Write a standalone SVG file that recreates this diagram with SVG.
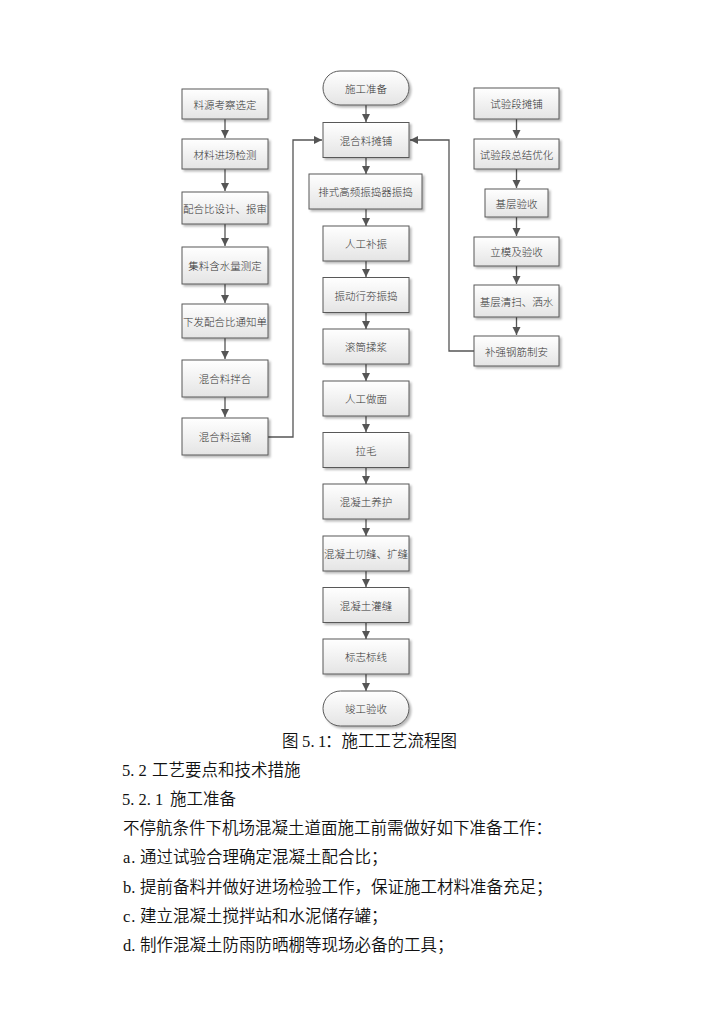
<svg xmlns="http://www.w3.org/2000/svg" width="724" height="1024" viewBox="0 0 724 1024">
<style>
.box{fill:url(#g);stroke:#595959;stroke-width:1;filter:url(#sh)}
.lbl{font-family:"Noto Sans CJK SC","Noto Sans",sans-serif;font-size:10.5px;font-weight:300;fill:#333;text-anchor:middle;dominant-baseline:central}
.ln{fill:none;stroke:#555;stroke-width:1.3}
.arr{marker-end:url(#ah)}
.body{font-family:"Liberation Serif","Noto Sans CJK SC",serif;font-size:16.5px;fill:#111}
.cjk{font-family:"Noto Sans CJK SC","Liberation Serif",sans-serif;font-weight:350}
</style>
<defs>
<linearGradient id="g" x1="0" y1="0" x2="0" y2="1">
<stop offset="0" stop-color="#ffffff"/>
<stop offset="1" stop-color="#e4e4e4"/>
</linearGradient>
<filter id="sh" x="-10%" y="-10%" width="130%" height="140%">
<feDropShadow dx="2" dy="2" stdDeviation="1.2" flood-color="#000" flood-opacity="0.28"/>
</filter>
<marker id="ah" markerUnits="userSpaceOnUse" markerWidth="9" markerHeight="9" refX="8" refY="4" orient="auto">
<path d="M0,0 L8,4 L0,8 z" fill="#555"/>
</marker>
</defs>
<rect width="724" height="1024" fill="#fff"/>

<g id="connectors">
<line class="ln arr" x1="225" y1="119" x2="225" y2="138"/>
<line class="ln arr" x1="225" y1="169" x2="225" y2="191"/>
<line class="ln arr" x1="225" y1="224" x2="225" y2="246"/>
<line class="ln arr" x1="225" y1="284" x2="225" y2="303"/>
<line class="ln arr" x1="225" y1="338" x2="225" y2="359"/>
<line class="ln arr" x1="225" y1="397" x2="225" y2="417"/>
<polyline class="ln arr" points="268,437 293,437 293,140 322,140"/>
<line class="ln arr" x1="366" y1="105" x2="366" y2="122"/>
<line class="ln arr" x1="366" y1="158" x2="366" y2="174"/>
<line class="ln arr" x1="366" y1="209" x2="366" y2="226"/>
<line class="ln arr" x1="366" y1="261" x2="366" y2="277"/>
<line class="ln arr" x1="366" y1="313" x2="366" y2="329"/>
<line class="ln arr" x1="366" y1="364" x2="366" y2="381"/>
<line class="ln arr" x1="366" y1="416" x2="366" y2="432"/>
<line class="ln arr" x1="366" y1="468" x2="366" y2="484"/>
<line class="ln arr" x1="366" y1="519" x2="366" y2="536"/>
<line class="ln arr" x1="366" y1="571" x2="366" y2="587"/>
<line class="ln arr" x1="366" y1="623" x2="366" y2="639"/>
<line class="ln arr" x1="366" y1="674" x2="366" y2="691"/>
<line class="ln arr" x1="516.5" y1="119" x2="516.5" y2="138"/>
<line class="ln arr" x1="516.5" y1="169" x2="516.5" y2="188"/>
<line class="ln arr" x1="516.5" y1="217" x2="516.5" y2="236"/>
<line class="ln arr" x1="516.5" y1="266" x2="516.5" y2="284"/>
<line class="ln arr" x1="516.5" y1="317" x2="516.5" y2="335"/>
<polyline class="ln arr" points="474,351 449,351 449,140 410,140"/>
</g>

<g id="n-liaoyuan"><rect class="box" x="182" y="89" width="86" height="30"/><text class="lbl" x="225" y="104">料源考察选定</text></g>
<g id="n-cailiao"><rect class="box" x="182" y="139" width="86" height="30"/><text class="lbl" x="225" y="154">材料进场检测</text></g>
<g id="n-peihebi"><rect class="box" x="182" y="192" width="86" height="32"/><text class="lbl" x="225" y="208">配合比设计、报审</text></g>
<g id="n-hanshui"><rect class="box" x="182" y="247" width="86" height="37"/><text class="lbl" x="225" y="265.5">集料含水量测定</text></g>
<g id="n-tongzhi"><rect class="box" x="182" y="304" width="86" height="34"/><text class="lbl" x="225" y="321">下发配合比通知单</text></g>
<g id="n-banhe"><rect class="box" x="182" y="360" width="86" height="37"/><text class="lbl" x="225" y="378.5">混合料拌合</text></g>
<g id="n-yunshu"><rect class="box" x="182" y="418" width="86" height="37"/><text class="lbl" x="225" y="436.5">混合料运输</text></g>

<g id="n-start"><rect class="box" x="323" y="71" width="86" height="34" rx="17" ry="17"/><text class="lbl" x="366" y="88">施工准备</text></g>
<g id="n-tanpu"><rect class="box" x="323" y="122.5" width="86" height="35"/><text class="lbl" x="366" y="140">混合料摊铺</text></g>
<g id="n-paishi"><rect class="box" x="309" y="174" width="113" height="35"/><text class="lbl" x="365.5" y="191.5">排式高频振捣器振捣</text></g>
<g id="n-buzhen"><rect class="box" x="323" y="226" width="86" height="35"/><text class="lbl" x="366" y="243.5">人工补振</text></g>
<g id="n-zhendong"><rect class="box" x="323" y="277.5" width="86" height="35"/><text class="lbl" x="366" y="295">振动行夯振捣</text></g>
<g id="n-guntong"><rect class="box" x="323" y="329" width="86" height="35"/><text class="lbl" x="366" y="346.5">滚筒揉浆</text></g>
<g id="n-zuomian"><rect class="box" x="323" y="381" width="86" height="35"/><text class="lbl" x="366" y="398.5">人工做面</text></g>
<g id="n-lamao"><rect class="box" x="323" y="432.5" width="86" height="35"/><text class="lbl" x="366" y="450">拉毛</text></g>
<g id="n-yanghu"><rect class="box" x="323" y="484" width="86" height="35"/><text class="lbl" x="366" y="501.5">混凝土养护</text></g>
<g id="n-qiefeng"><rect class="box" x="323" y="536" width="86" height="35"/><text class="lbl" x="366" y="553.5">混凝土切缝、扩缝</text></g>
<g id="n-guanfeng"><rect class="box" x="323" y="587.5" width="86" height="35"/><text class="lbl" x="366" y="605">混凝土灌缝</text></g>
<g id="n-biaozhi"><rect class="box" x="323" y="639" width="86" height="35"/><text class="lbl" x="366" y="656.5">标志标线</text></g>
<g id="n-end"><rect class="box" x="323" y="691" width="86" height="35" rx="17.5" ry="17.5"/><text class="lbl" x="366" y="708.5">竣工验收</text></g>

<g id="n-shiyan"><rect class="box" x="474" y="88" width="85" height="31"/><text class="lbl" x="516.5" y="103.5">试验段摊铺</text></g>
<g id="n-zongjie"><rect class="box" x="474" y="139" width="85" height="30"/><text class="lbl" x="516.5" y="154">试验段总结优化</text></g>
<g id="n-jiceng"><rect class="box" x="485" y="189" width="63" height="28"/><text class="lbl" x="516.5" y="203">基层验收</text></g>
<g id="n-limo"><rect class="box" x="474" y="237" width="85" height="29"/><text class="lbl" x="516.5" y="251.5">立模及验收</text></g>
<g id="n-qingsao"><rect class="box" x="474" y="285" width="85" height="32"/><text class="lbl" x="516.5" y="301">基层清扫、洒水</text></g>
<g id="n-gangjin"><rect class="box" x="474" y="336" width="85" height="30"/><text class="lbl" x="516.5" y="351">补强钢筋制安</text></g>

<g id="caption">
<text class="body" x="282" y="747"><tspan class="cjk">图</tspan><tspan x="302 310.5 318">5.1</tspan><tspan class="cjk" x="325">：施工工艺流程图</tspan></text>
<text class="body" y="776"><tspan x="122 130.25 138.5">5.2</tspan><tspan class="cjk" x="152">工艺要点和技术措施</tspan></text>
<text class="body" y="805"><tspan x="122 130.25 138.5 146.75 155">5.2.1</tspan><tspan class="cjk" x="170">施工准备</tspan></text>
<text class="body cjk" x="123" y="834">不停航条件下机场混凝土道面施工前需做好如下准备工作：</text>
<text class="body" y="863"><tspan x="123 131.25">a.</tspan><tspan class="cjk" x="140">通过试验合理确定混凝土配合比；</tspan></text>
<text class="body" y="893"><tspan x="123 131.25">b.</tspan><tspan class="cjk" x="140">提前备料并做好进场检验工作，保证施工材料准备充足；</tspan></text>
<text class="body" y="922"><tspan x="123 131.25">c.</tspan><tspan class="cjk" x="140">建立混凝土搅拌站和水泥储存罐；</tspan></text>
<text class="body" y="951"><tspan x="123 131.25">d.</tspan><tspan class="cjk" x="140">制作混凝土防雨防晒棚等现场必备的工具；</tspan></text>
</g>
</svg>
